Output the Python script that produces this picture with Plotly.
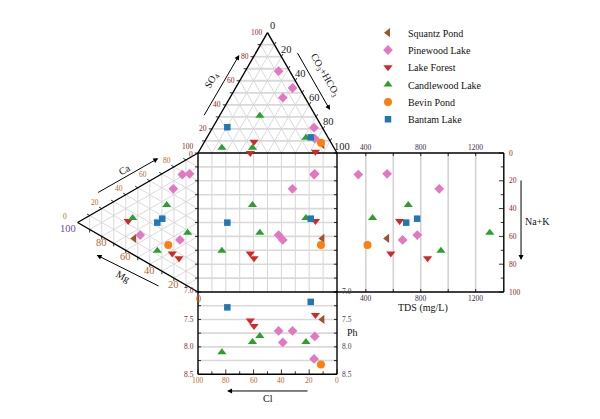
import plotly.graph_objects as go

# ---------------- data ----------------
SERIES = ["Squantz Pond", "Pinewood Lake", "Lake Forest", "Candlewood Lake", "Bevin Pond", "Bantam Lake"]
SYMBOLS = {"Squantz Pond": "triangle-left", "Pinewood Lake": "diamond", "Lake Forest": "triangle-down",
           "Candlewood Lake": "triangle-up", "Bevin Pond": "circle", "Bantam Lake": "square"}
COLORS = {"Squantz Pond": "#A0522D", "Pinewood Lake": "#E377C2", "Lake Forest": "#D62728",
          "Candlewood Lake": "#2CA02C", "Bevin Pond": "#FF7F0E", "Bantam Lake": "#1F77B4"}
SIZES = {"Squantz Pond": 8, "Pinewood Lake": 7.5, "Lake Forest": 8,
         "Candlewood Lake": 8, "Bevin Pond": 8, "Bantam Lake": 6.5}

# anions (% meq): SO4, CO3+HCO3 (Cl = remainder)
SO4 = {"Squantz Pond": [7], "Pinewood Lake": [21, 12, 54, 68, 46], "Lake Forest": [1, 0, 9.4],
       "Candlewood Lake": [31, 4.4, 4.4, 12.7], "Bevin Pond": [8.5], "Bantam Lake": [21.4, 13]}
HCO3 = {"Squantz Pond": [86], "Pinewood Lake": [73, 78, 41, 24, 38], "Lake Forest": [84, 37.6, 35.6],
        "Candlewood Lake": [29, 15, 37, 71.3], "Bevin Pond": [84.2], "Bantam Lake": [10.4, 74.6]}
# cations (% meq): Ca, Mg (Na+K = remainder)
CA = {"Squantz Pond": [12], "Pinewood Lake": [78, 81.5, 64, 17, 30], "Lake Forest": [22, 17, 16.3],
      "Candlewood Lake": [38.4, 12.8, 49.6, 26], "Bevin Pond": [21.5], "Bantam Lake": [33, 37.9]}
MG = {"Squantz Pond": [53], "Pinewood Lake": [13, 7, 20.5, 48, 15], "Lake Forest": [58, 21.4, 15.8],
      "Candlewood Lake": [8.6, 33.8, 26, 54.3], "Bevin Pond": [24.7], "Bantam Lake": [33.8, 29.7]}
TDS = {"Squantz Pond": [555], "Pinewood Lake": [345, 555, 935, 775, 668], "Lake Forest": [646, 582, 850],
       "Candlewood Lake": [1303, 947, 709, 449], "Bevin Pond": [412], "Bantam Lake": [694, 774]}
PH = {"Squantz Pond": [7.50], "Pinewood Lake": [8.22, 7.81, 7.71, 7.71, 7.92], "Lake Forest": [7.42, 7.52, 7.62],
      "Candlewood Lake": [7.80, 8.10, 7.91, 7.91], "Bevin Pond": [8.32], "Bantam Lake": [7.28, 7.18]}

TDS_TICKS = [400, 800, 1200]
PH_TICKS = [7.0, 7.5, 8.0, 8.5]
PCT_TICKS = [0, 20, 40, 60, 80, 100]

# ---------------- geometry ----------------
PAGE_OFF = 8          # default body margin of the html page
W, H = 600 - PAGE_OFF, 419 - PAGE_OFF
S = 1.39              # pixels per unit
OX, OY = 198, 292     # window pixel of the square's bottom-left corner
H3 = 3 ** 0.5 / 2
TDS_MIN, TDS_MAX = 190, 1405
RP_W = 120
BP_H = 59.2
PH_MIN, PH_MAX = 7.0, 8.5
FONT = "Liberation Serif"


def anion_xy(so4, hco3):
    return hco3 + so4 / 2, 100 + so4 * H3


def cation_xy(ca, mg):
    return -mg * H3, ca + mg / 2


def tds_x(t):
    return 100 + (t - TDS_MIN) / (TDS_MAX - TDS_MIN) * RP_W


def ph_y(p):
    return -(p - PH_MIN) / (PH_MAX - PH_MIN) * BP_H


fig = go.Figure()


def add_lines(segs, color, width):
    xs, ys = [], []
    for (x0, y0), (x1, y1) in segs:
        xs += [x0, x1, None]
        ys += [y0, y1, None]
    fig.add_trace(go.Scatter(x=xs, y=ys, mode="lines", line=dict(color=color, width=width),
                             hoverinfo="skip", showlegend=False))


GRID = "#d6d6d6"
# top triangle grid
hor, diag = [], []
for k in range(10, 100, 10):
    hor.append((anion_xy(k, 0), anion_xy(k, 100 - k)))
    diag.append((anion_xy(0, k), anion_xy(100 - k, k)))
    diag.append((anion_xy(0, 100 - k), anion_xy(100 - k, 0)))
add_lines(hor, "#d9d9d9", 1.8)
add_lines(diag, GRID, 0.9)
# left triangle grid
lt = []
for k in range(10, 100, 10):
    lt.append((cation_xy(0, k), cation_xy(100 - k, k)))
    lt.append((cation_xy(k, 0), cation_xy(k, 100 - k)))
    lt.append((cation_xy(100 - k, 0), cation_xy(0, 100 - k)))
add_lines(lt, GRID, 0.9)
# square grid
add_lines([((k, 0), (k, 100)) for k in range(10, 100, 10)], GRID, 1.0)
add_lines([((0, k), (100, k)) for k in range(10, 100, 10)], "#d9d9d9", 1.6)
# right panel grid
add_lines([((tds_x(t), 0), (tds_x(t), 100)) for t in range(400, 1400, 200)], "#d3d3d3", 1.6)
# bottom panel grid
add_lines([((0, ph_y(p)), (100, ph_y(p))) for p in [7.25, 7.5, 7.75, 8.0, 8.25]], "#d9d9d9", 1.6)

# ticks
T = 2.2
ticks = []
for k in range(0, 101, 10):
    ticks.append(((0, k), (-T, k)))                         # square left
    ticks.append(((100, k), (100 - T, k)))                  # right panel left
    ticks.append(((100 + RP_W, k), (100 + RP_W - (T if k % 20 else 1.6 * T), k)))
    ticks.append(((k, -BP_H), (k, -BP_H + (T if k % 20 else 1.6 * T))))
for p in [7.0, 7.25, 7.5, 7.75, 8.0, 8.25, 8.5]:
    ticks.append(((0, ph_y(p)), (T, ph_y(p))))
    ticks.append(((100, ph_y(p)), (100 - T, ph_y(p))))
for t in range(400, 1400, 200):
    ticks.append(((tds_x(t), 100), (tds_x(t), 100 - T)))
    ticks.append(((tds_x(t), 0), (tds_x(t), T)))
for k in range(10, 100, 10):
    x, y = anion_xy(k, 0)
    ticks.append(((x, y), (x - T, y)))
    x, y = anion_xy(100 - k, k)
    ticks.append(((x, y), (x + T * 0.5, y + T * H3)))
    x, y = cation_xy(k, 100 - k)
    ticks.append(((x, y), (x - T * H3, y + T * 0.5)))
    x, y = cation_xy(0, k)
    ticks.append(((x, y), (x, y - T)))
add_lines(ticks, "black", 0.8)

# borders
borders = [
    (anion_xy(0, 0), anion_xy(100, 0)), (anion_xy(100, 0), anion_xy(0, 100)),
    (cation_xy(100, 0), cation_xy(0, 100)), (cation_xy(0, 100), cation_xy(0, 0)),
    ((0, 0), (100, 0)), ((100, 0), (100, 100)), ((100, 100), (0, 100)), ((0, 100), (0, 0)),
    ((100, 100), (100 + RP_W, 100)), ((100 + RP_W, 100), (100 + RP_W, 0)), ((100 + RP_W, 0), (100, 0)),
    ((0, -BP_H), (100, -BP_H)), ((0, 0), (0, -BP_H)), ((100, 0), (100, -BP_H)),
]
add_lines(borders, "black", 1.4)

# data points (each sample drawn in all five fields); one legend per series row
LEG_TOP = 32.7      # window pixel of first legend row
LEG_STEP = 17.3
LEG_LEFT = 368      # window pixel of legend box left
legends = {}
for i, name in enumerate(SERIES):
    xs, ys = [], []
    for so4, hco3, ca, mg, tds, ph in zip(SO4[name], HCO3[name], CA[name], MG[name], TDS[name], PH[name]):
        ax_, ay_ = anion_xy(so4, hco3)
        cx_, cy_ = cation_xy(ca, mg)
        xs += [ax_, cx_, ax_, tds_x(tds), ax_]
        ys += [ay_, cy_, cy_, cy_, ph_y(ph)]
    lname = "legend" if i == 0 else f"legend{i + 1}"
    fig.add_trace(go.Scatter(x=xs, y=ys, mode="markers", name=name, legend=lname,
                             marker=dict(symbol=SYMBOLS[name], color=COLORS[name], size=SIZES[name],
                                         line=dict(width=0))))
    ypix = LEG_TOP + LEG_STEP * i - PAGE_OFF
    legends[lname] = dict(x=(LEG_LEFT - PAGE_OFF) / W, y=1 - ypix / H, xanchor="left", yanchor="middle",
                          bgcolor="rgba(0,0,0,0)", borderwidth=0, itemwidth=30,
                          font=dict(family=FONT, size=10, color="#111111"))

ann = []


def label(x, y, text, size, color, xanchor="center", xshift=0, yshift=0, angle=0):
    ann.append(dict(x=x, y=y, xref="x", yref="y", text=text, showarrow=False, xanchor=xanchor,
                    yanchor="middle", xshift=xshift, yshift=yshift, textangle=angle,
                    font=dict(family=FONT, size=size, color=color)))


DR = "#8B2323"
OR = "#B8692E"
for k in PCT_TICKS:
    x, y = anion_xy(k, 0)
    label(x, y, str(k), 7.5, DR, xanchor="right", xshift=-3, yshift=(-1 if k == 0 else 0))
    x, y = anion_xy(100 - k, k)
    label(x, y, str(k), 10.5, "#222222", xshift=5, yshift=7)
    x, y = cation_xy(k, 100 - k)
    if k == 100:
        label(x, y, str(k), 7.5, DR, xshift=-10, yshift=7)
    else:
        label(x, y, str(k), 7.5, OR, xshift=-7 - (6 if k == 0 else 0), yshift=6)
    x, y = cation_xy(0, k)
    label(x, y, str(k), 10.5, "#6A4C93" if k == 100 else OR, xshift=(-10 if k == 100 else 0), yshift=-6)
    # bottom panel Cl axis
    label(k, -BP_H, str(100 - k), 7.5, OR, yshift=-6)
    # right panel Na+K axis
    label(100 + RP_W, 100 - k, str(k), 7.5, DR, xanchor="left", xshift=3)
for t in TDS_TICKS:
    label(tds_x(t), 100, str(t), 7.5, "#3a2a4a", yshift=6)
    label(tds_x(t), 0, str(t), 7.5, "#3a2a4a", yshift=-6)
for p in PH_TICKS:
    label(0, ph_y(p), f"{p:.1f}", 7.5, DR, xanchor="right", xshift=-2, yshift=(2 if p == 7.0 else 0))
    label(100, ph_y(p), f"{p:.1f}", 7.5, "#4a3a4a", xanchor="left", xshift=3, yshift=(1 if p == 7.0 else 0))


def arrow(hx, hy, tx, ty):
    ann.append(dict(x=hx, y=hy, ax=tx, ay=ty, xref="x", yref="y", axref="x", ayref="y", text="",
                    showarrow=True, arrowhead=2, arrowsize=1, arrowwidth=1, arrowcolor="black"))


arrow(29.7, 170.5, 3.8, 126.1)      # SO4
arrow(95.0, 130.9, 71.0, 172.9)     # CO3+HCO3
arrow(-28.6, 96.2, -72.9, 71.0)     # Ca
arrow(-72.9, 26.6, -27.3, 3.8)      # Mg
arrow(232.4, 23.0, 232.4, 81.3)     # Na+K
arrow(20.9, -71.2, 79.9, -71.2)     # Cl

TITLE = "#111111"
label(9.9, 152.5, "SO<sub>4</sub>", 10, TITLE, angle=-60)
label(91.4, 156.1, "CO<sub>3</sub>+HCO<sub>3</sub>", 10, TITLE, angle=60)
label(-52.5, 87.8, "Ca", 10, TITLE, angle=-30)
label(-53.7, 11.0, "Mg", 10, TITLE, angle=30)
label(243.9, 50.4, "Na+K", 10, TITLE)
label(161.9, -11.5, "TDS (mg/L)", 10, TITLE)
label(110.8, -28.8, "Ph", 10, TITLE)
label(50.4, -76.3, "Cl", 10, TITLE)

fig.update_layout(
    width=W, height=H, margin=dict(l=0, r=0, t=0, b=0),
    paper_bgcolor="white", plot_bgcolor="white",
    xaxis=dict(range=[(PAGE_OFF - OX) / S, (600 - OX) / S], visible=False, fixedrange=True),
    yaxis=dict(range=[(OY - 419) / S, (OY - PAGE_OFF) / S], visible=False, fixedrange=True),
    annotations=ann,
    showlegend=True,
    font=dict(family=FONT),
    **legends,
)

fig.write_html("out.html")
